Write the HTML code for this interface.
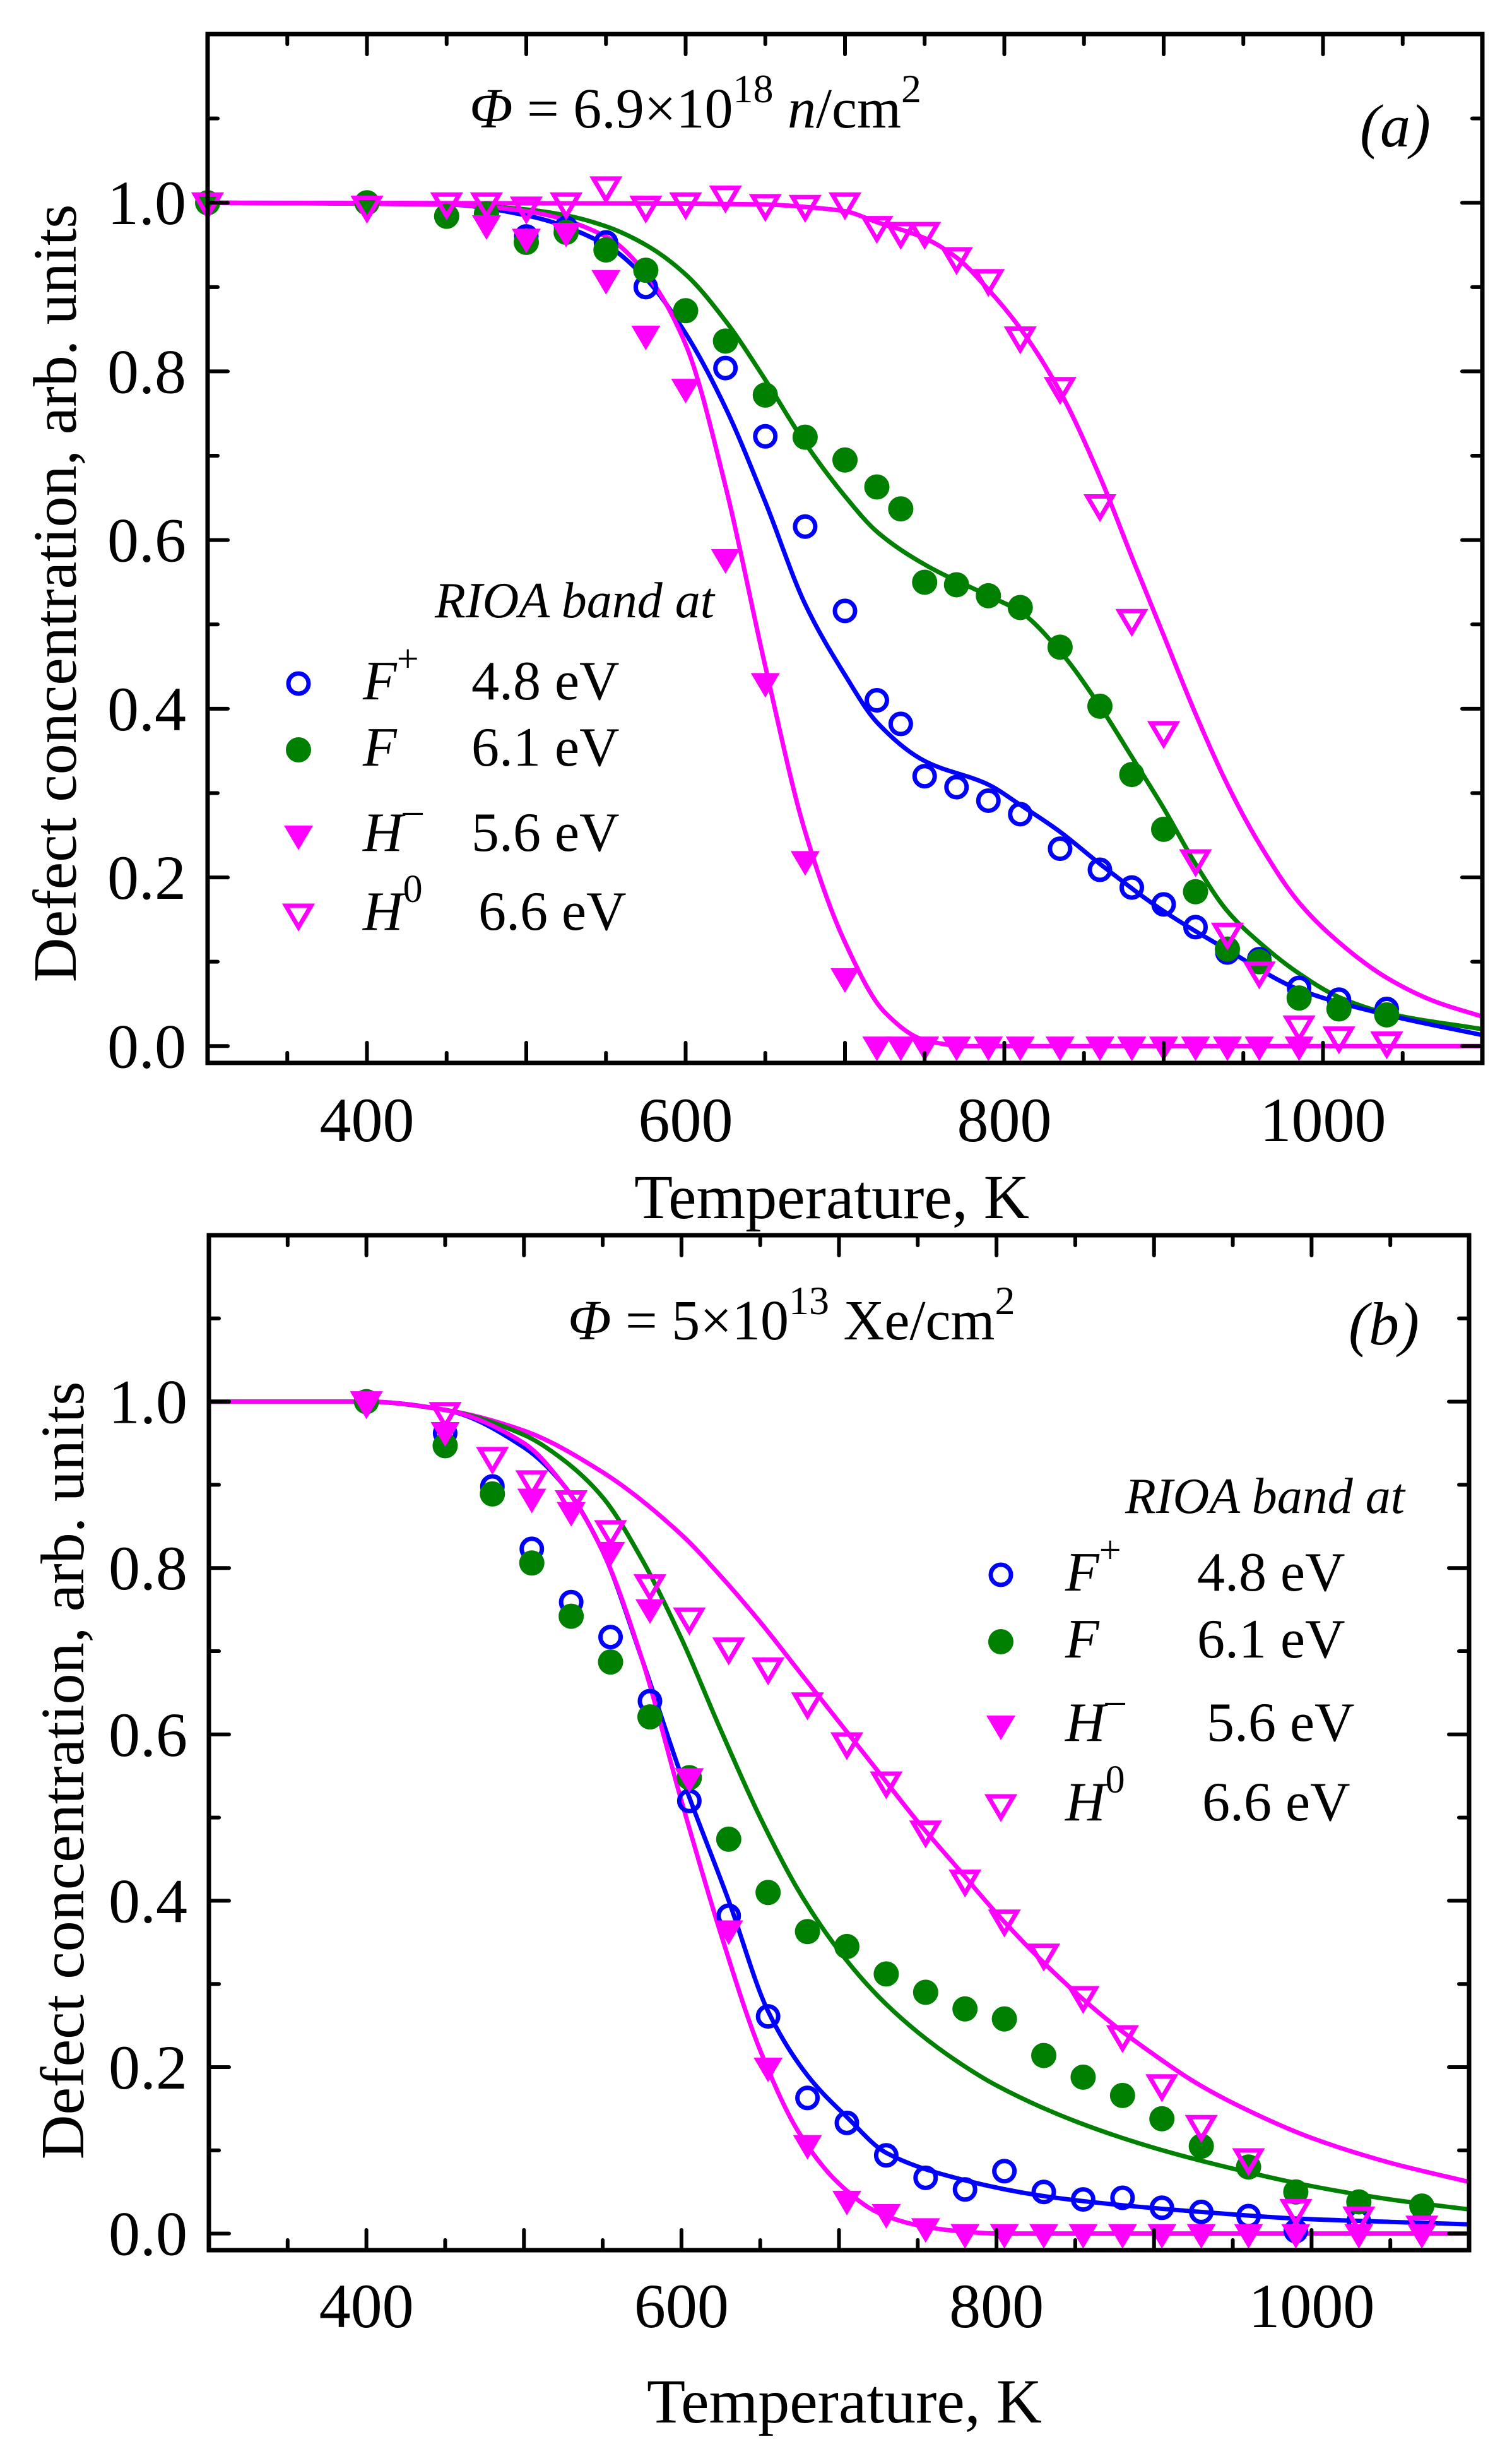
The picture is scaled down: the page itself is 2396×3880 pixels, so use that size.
<!DOCTYPE html>
<html><head><meta charset="utf-8"><title>Defect concentration vs temperature</title>
<style>
html,body{margin:0;padding:0;background:#fff;}
svg{display:block;font-family:"Liberation Serif","DejaVu Serif",serif;}
</style></head>
<body>
<svg id="chart" xmlns="http://www.w3.org/2000/svg" width="2396" height="3880" viewBox="0 0 2396 3880">
<rect x="0" y="0" width="2396" height="3880" fill="#fff"/>
<g id="panelA"></g>
<g id="panelB"></g>
</svg>
<script>
// ---------- Panel (a) data ----------
const aFpT = [300,400,500,525,550,575,600,625,650,675,700,720,735,750,770,790,810,835,860,880,900,920,940,960,985,1010,1040];
const aFpV = [1.0,1.0,0.96,0.97,0.953,0.90,0.872,0.804,0.723,0.616,0.516,0.41,0.382,0.32,0.307,0.291,0.275,0.234,0.209,0.188,0.168,0.141,0.111,0.103,0.069,0.055,0.044];
const aFT = [300,400,450,475,500,525,550,575,600,625,650,675,700,720,735,750,770,790,810,835,860,880,900,920,940,960,985,1010,1040];
const aFV = [1.0,1.0,0.984,0.987,0.953,0.965,0.944,0.92,0.872,0.836,0.772,0.722,0.695,0.663,0.637,0.55,0.547,0.534,0.52,0.473,0.403,0.322,0.257,0.183,0.115,0.10,0.057,0.044,0.037];
const aHmT = [475,500,525,550,575,600,625,650,675,700,720,735,750,770,790,810,835,860,880,900,920,940,960,985];
const aHmV = [0.974,0.958,0.965,0.909,0.843,0.78,0.578,0.431,0.22,0.081,0,0,0,0,0,0,0,0,0,0,0,0,0,0];
const aH0T = [300,400,450,475,500,525,550,575,600,625,650,675,700,720,735,750,770,790,810,835,860,880,900,920,940,960,985,1010,1040];
const aH0V = [1.0,0.996,1.0,1.0,0.995,1.0,1.019,0.996,1.0,1.008,0.998,0.997,1.0,0.972,0.965,0.965,0.935,0.909,0.841,0.781,0.642,0.506,0.373,0.221,0.134,0.088,0.024,0.011,0.005];
// fit curves (a)
const aFitFpT = [300,450,500,550,575,600,625,650,675,700,720,750,790,810,835,860,900,940,985,1040,1100];
const aFitFpV = [1.0,0.998,0.985,0.95,0.91,0.845,0.757,0.645,0.524,0.44,0.384,0.338,0.31,0.286,0.254,0.216,0.16,0.114,0.067,0.037,0.013];
const aFitFT = [300,450,500,525,550,575,600,625,650,675,700,720,750,790,810,835,860,880,900,920,940,960,985,1010,1040,1100];
const aFitFV = [1.0,0.998,0.992,0.985,0.972,0.95,0.915,0.86,0.79,0.715,0.652,0.61,0.571,0.534,0.515,0.468,0.403,0.343,0.282,0.216,0.16,0.123,0.086,0.058,0.039,0.02];
const aFitHmT = [300,450,500,550,575,600,625,650,675,700,725,750,775,800,1100];
const aFitHmV = [1.0,0.998,0.99,0.96,0.916,0.832,0.664,0.45,0.254,0.123,0.04,0.007,0.0,0.0,0.0];
const aFitH0T = [300,600,650,675,700,720,750,770,790,810,835,860,880,900,920,940,960,985,1010,1040,1070,1100];
const aFitH0V = [1.0,0.999,0.998,0.995,0.99,0.977,0.958,0.935,0.897,0.851,0.776,0.675,0.58,0.487,0.394,0.31,0.24,0.17,0.123,0.081,0.053,0.035];

// ---------- Panel (b) data ----------
const bT = [400,450,480,505,530,555,580,605,630,655,680,705,730,755,780,805,830,855,880,905,930,960,990,1030,1070];
const bFpV = [1.0,0.962,0.898,0.823,0.759,0.717,0.64,0.52,0.382,0.261,0.163,0.133,0.094,0.067,0.053,0.075,0.05,0.041,0.043,0.031,0.026,0.021,0.003,0.015,0.012];
const bFV = [1.0,0.947,0.889,0.806,0.742,0.687,0.621,0.548,0.474,0.41,0.363,0.345,0.312,0.29,0.27,0.258,0.214,0.188,0.166,0.138,0.105,0.08,0.05,0.038,0.033];
const bHmT = [400,450,505,530,555,580,605,630,655,680,705,730,755,780,805,830,855,880,905,930,960,990,1030,1070];
const bHmV = [1.0,0.964,0.884,0.868,0.82,0.751,0.548,0.365,0.2,0.107,0.04,0.024,0.007,0,0,0,0,0,0,0,0,0,0,0];
const bH0V = [1.0,0.987,0.933,0.905,0.881,0.845,0.78,0.74,0.704,0.68,0.638,0.59,0.543,0.484,0.425,0.377,0.336,0.285,0.238,0.179,0.13,0.09,0.029,0.02,0.009];
// fit curves (b)
const bFitFpT = [300,400,450,500,525,550,575,600,630,655,680,705,730,780,830,880,930,990,1050,1100];
const bFitFpV = [1.0,1.0,0.99,0.945,0.9,0.82,0.69,0.55,0.4,0.267,0.19,0.14,0.097,0.064,0.045,0.034,0.026,0.018,0.014,0.011];
const bFitFT = [300,400,450,500,525,550,575,600,625,650,675,700,725,750,775,800,850,900,950,1000,1050,1100];
const bFitFV = [1.0,1.0,0.99,0.96,0.93,0.885,0.81,0.715,0.605,0.5,0.41,0.34,0.285,0.242,0.207,0.178,0.135,0.103,0.078,0.057,0.041,0.029];
const bFitHmT = [300,400,450,500,525,550,575,600,625,650,675,700,725,750,775,800,1100];
const bFitHmV = [1.0,1.0,0.99,0.95,0.9,0.82,0.69,0.52,0.36,0.22,0.12,0.06,0.025,0.01,0.003,0.0,0.0];
const bFitH0T = [300,400,450,500,550,600,625,650,675,700,725,750,775,800,825,850,875,900,925,950,1000,1050,1100];
const bFitH0V = [1.0,1.0,0.99,0.965,0.915,0.84,0.79,0.735,0.675,0.615,0.555,0.495,0.44,0.385,0.335,0.29,0.25,0.215,0.183,0.157,0.115,0.085,0.062];

const xTicks = [400,600,800,1000];
const yTicks = [0.0,0.2,0.4,0.6,0.8,1.0];
const yTickLabels = ["0.0","0.2","0.4","0.6","0.8","1.0"];

const NS = "http://www.w3.org/2000/svg";
const BLUE = "#0000ff", GREEN = "#008000", MAG = "#ff00ff";

function mk(tag, attrs, parent){
  const e = document.createElementNS(NS, tag);
  for (const k in attrs) e.setAttribute(k, attrs[k]);
  parent.appendChild(e);
  return e;
}

// monotone cubic (Fritsch-Carlson) path in screen coords
function monoPath(pts){
  const n = pts.length;
  const dx = [], m = [], s = [];
  for (let i = 0; i < n-1; i++){ dx.push(pts[i+1][0]-pts[i][0]); s.push((pts[i+1][1]-pts[i][1])/dx[i]); }
  m[0] = s[0]; m[n-1] = s[n-2];
  for (let i = 1; i < n-1; i++){
    if (s[i-1]*s[i] <= 0) m[i] = 0;
    else { const w1 = 2*dx[i]+dx[i-1], w2 = dx[i]+2*dx[i-1]; m[i] = (w1+w2)/(w1/s[i-1]+w2/s[i]); }
  }
  let d = "M" + pts[0][0].toFixed(1) + "," + pts[0][1].toFixed(1);
  for (let i = 0; i < n-1; i++){
    const h = dx[i];
    d += " C" + (pts[i][0]+h/3).toFixed(1) + "," + (pts[i][1]+m[i]*h/3).toFixed(1) + " " +
         (pts[i+1][0]-h/3).toFixed(1) + "," + (pts[i+1][1]-m[i+1]*h/3).toFixed(1) + " " +
         pts[i+1][0].toFixed(1) + "," + pts[i+1][1].toFixed(1);
  }
  return d;
}

function drawPanel(g, P){
  const sx = t => P.x0 + (t - 300) / 800 * (P.x1 - P.x0);
  const sy = v => P.yb + (v + 0.02) / 1.22 * (P.yt - P.yb);
  const clipId = "clip" + P.id;
  const defs = mk("defs", {}, g);
  const cp = mk("clipPath", {id: clipId}, defs);
  mk("rect", {x: P.x0, y: P.yt, width: P.x1 - P.x0, height: P.yb - P.yt}, cp);

  const curves = mk("g", {"clip-path": "url(#" + clipId + ")"}, g);
  
  
  P.fits.forEach(f => {
    const pts = f.t.map((t, i) => [sx(t), sy(f.v[i])]);
    const p = mk("path", {d: monoPath(pts), fill: "none", stroke: f.c, "stroke-width": 7, "stroke-linejoin": "round"}, curves);
    
    
  });

  P.series.forEach(s => {
    const sg = mk("g", {}, g);
    
    
    s.t.forEach((t, i) => {
      const m = marker(sg, s.type, sx(t), sy(s.v[i]));
      
      
    });
  });

  const fr = mk("rect", {x: P.x0, y: P.yt, width: P.x1 - P.x0, height: P.yb - P.yt, fill: "none", stroke: "#000", "stroke-width": 7}, g);
  
  

  const tk = mk("g", {stroke: "#000", "stroke-width": 6, "stroke-linecap": "round"}, g);
  
  
  for (let t = 350; t <= 1050; t += 50){
    const L = (t % 100 === 0) ? 32 : 16;
    const x = sx(t);
    mk("line", {x1: x, y1: P.yb, x2: x, y2: P.yb - L}, tk);
    mk("line", {x1: x, y1: P.yt, x2: x, y2: P.yt + L}, tk);
  }
  for (let k = 0; k <= 11; k++){
    const v = k / 10;
    const L = (k % 2 === 0) ? 32 : 16;
    const y = sy(v);
    mk("line", {x1: P.x0, y1: y, x2: P.x0 + L, y2: y}, tk);
    mk("line", {x1: P.x1, y1: y, x2: P.x1 - L, y2: y}, tk);
  }

  xTicks.forEach(t => {
    const e = mk("text", {x: sx(t), y: P.xlabY, "text-anchor": "middle", "font-size": 100}, g);
    e.textContent = String(t);
    
    
  });
  yTicks.forEach((v, i) => {
    const e = mk("text", {x: P.x0 - 34, y: sy(v) + 34, "text-anchor": "end", "font-size": 100}, g);
    e.textContent = yTickLabels[i];
    
    
  });

  const xt = mk("text", {x: P.xtX, y: P.xtY, "text-anchor": "middle", "font-size": 100}, g);
  xt.textContent = "Temperature, K";
  
  
  const yt = mk("text", {x: 0, y: 0, "text-anchor": "middle", "font-size": 98, transform: "translate(" + P.ytX + "," + P.ytY + ") rotate(-90)"}, g);
  yt.textContent = "Defect concentration, arb. units";
  
  
}

function marker(parent, type, x, y){
  if (type === "oc") return mk("circle", {cx: x, cy: y, r: 16, fill: "none", stroke: BLUE, "stroke-width": 7}, parent);
  if (type === "fc") return mk("circle", {cx: x, cy: y, r: 20, fill: GREEN}, parent);
  if (type === "ft") return mk("path", {d: "M" + (x-23) + "," + (y-15) + " L" + (x+23) + "," + (y-15) + " L" + x + "," + (y+24) + "Z", fill: MAG}, parent);
  return mk("path", {d: "M" + (x-20) + "," + (y-13) + " L" + (x+20) + "," + (y-13) + " L" + x + "," + (y+21) + "Z", fill: "none", stroke: MAG, "stroke-width": 7, "stroke-linejoin": "miter"}, parent);
}

const gA = document.getElementById("panelA");
drawPanel(gA, {
  id: "A", x0: 329, x1: 2349, yt: 54, yb: 1684, xlabY: 1808,
  xtX: 1318, xtY: 1930, ytX: 120, ytY: 940,
  fits: [
    {t: aFitH0T, v: aFitH0V, c: MAG, name: "fit-curve-h0"},
    {t: aFitFT, v: aFitFV, c: GREEN, name: "fit-curve-f"},
    {t: aFitFpT, v: aFitFpV, c: BLUE, name: "fit-curve-f-plus"},
    {t: aFitHmT, v: aFitHmV, c: MAG, name: "fit-curve-h-minus"}
  ],
  series: [
    {t: aFpT, v: aFpV, type: "oc", name: "series-f-plus"},
    {t: aFT, v: aFV, type: "fc", name: "series-f"},
    {t: aHmT, v: aHmV, type: "ft", name: "series-h-minus"},
    {t: aH0T, v: aH0V, type: "ot", name: "series-h0"}
  ]
});

const gB = document.getElementById("panelB");
drawPanel(gB, {
  id: "B", x0: 331, x1: 2328, yt: 1957, yb: 3565, xlabY: 3687,
  xtX: 1338, xtY: 3838, ytX: 132, ytY: 2805,
  fits: [
    {t: bFitH0T, v: bFitH0V, c: MAG, name: "fit-curve-h0"},
    {t: bFitFT, v: bFitFV, c: GREEN, name: "fit-curve-f"},
    {t: bFitFpT, v: bFitFpV, c: BLUE, name: "fit-curve-f-plus"},
    {t: bFitHmT, v: bFitHmV, c: MAG, name: "fit-curve-h-minus"}
  ],
  series: [
    {t: bT, v: bFpV, type: "oc", name: "series-f-plus"},
    {t: bT, v: bFV, type: "fc", name: "series-f"},
    {t: bHmT, v: bHmV, type: "ft", name: "series-h-minus"},
    {t: bT, v: bH0V, type: "ot", name: "series-h0"}
  ]
});

function legend(g, L){
  const lg = mk("g", {}, g);
  
  
  const hdr = mk("text", {x: L.hx, y: L.hy, "font-size": 80, "font-style": "italic"}, lg);
  hdr.textContent = "RIOA band at";
  
  
  const items = [
    {type: "oc", base: "F", sup: "+", e: "4.8 eV", n: "legend-entry-f-plus"},
    {type: "fc", base: "F", sup: "", e: "6.1 eV", n: "legend-entry-f"},
    {type: "ft", base: "H", sup: "\u2013", e: "5.6 eV", n: "legend-entry-h-minus"},
    {type: "ot", base: "H", sup: "0", e: "6.6 eV", n: "legend-entry-h0"}
  ];
  items.forEach((it, i) => {
    const eg = mk("g", {}, lg);
    
    
    marker(eg, it.type, L.mx, L.ys[i] - 25);
    const tx = mk("text", {x: L.nx, y: L.ys[i], "font-size": 88, "font-style": "italic"}, eg);
    tx.textContent = it.base;
    if (it.sup){
      const s = mk("tspan", {dy: -44, "font-size": 62, "font-style": "normal"}, tx);
      s.textContent = it.sup;
    }
    const ev = mk("text", {x: L.ex[i], y: L.ys[i], "font-size": 88}, eg);
    ev.textContent = it.e;
  });
}

legend(gA, {hx: 689, hy: 978, mx: 473, nx: 575, ex: [747,747,747,758], ys: [1108,1213,1348,1473]});
legend(gB, {hx: 1783, hy: 2397, mx: 1586, nx: 1688, ex: [1897,1897,1912,1905], ys: [2520,2626,2758,2884]});

function annot(g, x, y, num, sup, unitIt, unit, name){
  const t = mk("text", {x: x, y: y, "font-size": 90}, g);
  
  
  const a = mk("tspan", {"font-style": "italic"}, t); a.textContent = "\u03A6";
  const b = mk("tspan", {}, t); b.textContent = " = " + num;
  const c = mk("tspan", {dy: -40, "font-size": 64}, t); c.textContent = sup;
  const d = mk("tspan", {dy: 40}, t); d.textContent = " ";
  if (unitIt){ const e = mk("tspan", {"font-style": "italic"}, t); e.textContent = unitIt; }
  const f = mk("tspan", {}, t); f.textContent = unit;
  const h = mk("tspan", {dy: -40, "font-size": 64}, t); h.textContent = "2";
}
annot(gA, 744, 202, "6.9\u00D710", "18", "n", "/cm", "fluence-label");
annot(gB, 900, 2122, "5\u00D710", "13", "", "Xe/cm", "fluence-label");

const pa = mk("text", {x: 2155, y: 232, "font-size": 96, "font-style": "italic"}, gA);
pa.textContent = "(a)";


const pb = mk("text", {x: 2137, y: 2130, "font-size": 96, "font-style": "italic"}, gB);
pb.textContent = "(b)";


</script>
</body></html>
